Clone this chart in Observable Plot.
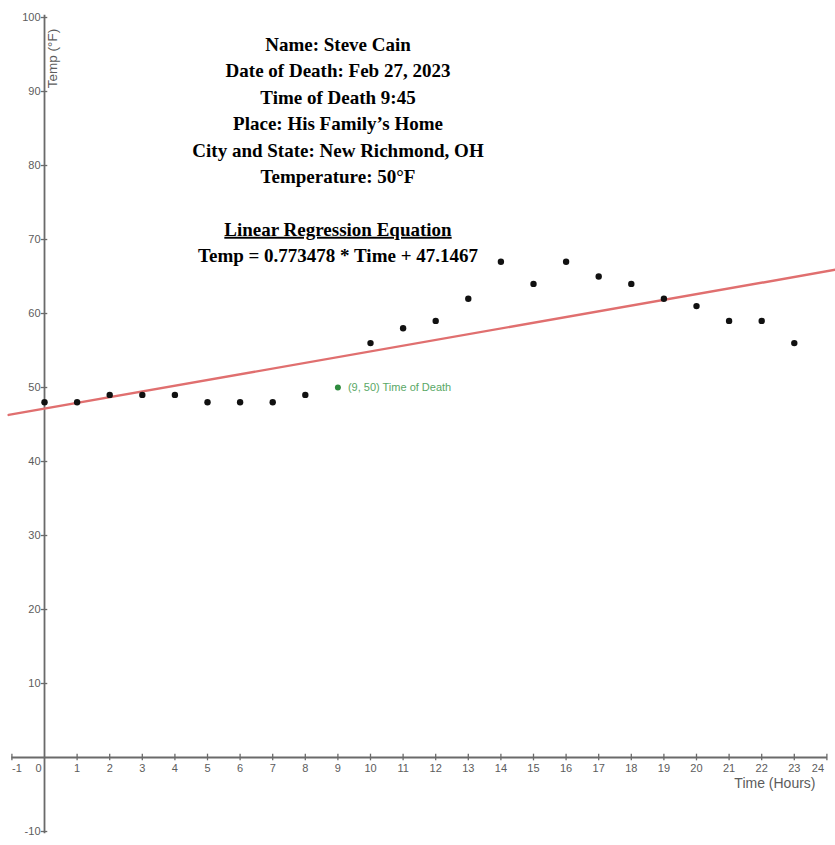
<!DOCTYPE html>
<html>
<head>
<meta charset="utf-8">
<script src="https://cdn.jsdelivr.net/npm/d3@7"></script>
<script src="https://cdn.jsdelivr.net/npm/@observablehq/plot@0.6"></script>
<style>
  html, body { margin: 0; padding: 0; background: #fff; }
  #chart { width: 835px; height: 845px; }
</style>
</head>
<body>
<div id="chart"></div>
<script>
// Hours after midnight and measured temperature (°F)
const hours = [0, 1, 2, 3, 4, 5, 6, 7, 8, 10, 11, 12, 13, 14, 15, 16, 17, 18, 19, 20, 21, 22, 23];
const temps = [48, 48, 49, 49, 49, 48, 48, 48, 49, 56, 58, 59, 62, 67, 64, 67, 65, 64, 62, 61, 59, 59, 56];

// Time of death point
const deathTime = [9];
const deathTemp = [50];
const deathLabel = ["(9, 50) Time of Death"];

// Regression coefficients
const slope = 0.773478;
const intercept = 47.1467;

// Tick labels
const xTicks = d3.range(-1, 25);
const yTicks = [-10, 10, 20, 30, 40, 50, 60, 70, 80, 90, 100];

// Info text
const infoLines = [
  "Name: Steve Cain",
  "Date of Death: Feb 27, 2023",
  "Time of Death 9:45",
  "Place: His Family\u2019s Home",
  "City and State: New Richmond, OH",
  "Temperature: 50\u00B0F",
  "",
  "Linear Regression Equation",
  "Temp = 0.773478 * Time + 47.1467"
];

const points = hours.map((h, i) => ({h, t: temps[i]}));
const death = deathTime.map((h, i) => ({h, t: deathTemp[i], label: deathLabel[i]}));
const lineX = [-1.1, 24.3];
const regLine = lineX.map(x => ({x, y: slope * x + intercept}));

const axisColor = "#6a6a6a";
const labelColor = "#5c5c5c";
const sans = "Liberation Sans, Arial, sans-serif";

const infoMarks = infoLines.map((s, i) => s === "" ? null :
  Plot.text([s], {frameAnchor: "top", dx: -80, dy: 37 + i * 26.4, lineAnchor: "top", fontSize: 19, fontWeight: "bold", fill: "#000", fontFamily: "Liberation Serif, Times New Roman, serif"})
).filter(Boolean);

const tickDx = d => d === 0 ? -6 : d === -1 ? 5 : d === 24 ? -9 : 0;

const chart = Plot.plot({
  width: 835,
  height: 845,
  marginLeft: 0,
  marginRight: 0,
  marginTop: 0,
  marginBottom: 0,
  x: {domain: [-1.35, 24.264], axis: null},
  y: {domain: [-11.89, 102.3], axis: null},
  marks: [
    // axes
    Plot.ruleY([0], {x1: -1, x2: 24.02, stroke: axisColor, strokeWidth: 1.8}),
    Plot.ruleX([0], {y1: -10.3, y2: 100.3, stroke: axisColor, strokeWidth: 1.8}),
    // ticks
    Plot.ruleX(xTicks.filter(d => d !== 0), {x: d => d, y1: -0.45, y2: 0.45, stroke: axisColor, strokeWidth: 1.3}),
    Plot.ruleY(yTicks, {y: d => d, x1: -0.1, x2: 0.1, stroke: axisColor, strokeWidth: 1.3}),
    // tick labels
    ...xTicks.map(d => Plot.text([d], {x: v => v, y: 0, text: v => String(v), dy: 11, dx: tickDx(d), fontSize: 11, fill: labelColor, fontFamily: sans})),
    Plot.text(yTicks, {x: 0, y: d => d, text: d => String(d), textAnchor: "end", dx: -4, fontSize: 11, fill: labelColor, fontFamily: sans}),
    // axis titles
    Plot.text(["Time (Hours)"], {frameAnchor: "bottom-right", dx: -20, dy: -58, textAnchor: "end", fontSize: 14, fill: labelColor, fontFamily: sans}),
    Plot.text(["Temp (\u00B0F)"], {frameAnchor: "top-left", dx: 52, dy: 58, rotate: -90, textAnchor: "middle", lineAnchor: "middle", fontSize: 13.5, fill: labelColor, fontFamily: sans}),
    // regression line
    Plot.line(regLine, {x: "x", y: "y", stroke: "#e06f6f", strokeWidth: 2.4}),
    // data points
    Plot.dot(points, {x: "h", y: "t", r: 3.2, fill: "#111", stroke: "none"}),
    // time of death
    Plot.dot(death, {x: "h", y: "t", r: 3, fill: "#2e8b3e", stroke: "none"}),
    Plot.text(death, {x: "h", y: "t", text: "label", dx: 10, textAnchor: "start", fontSize: 11, fill: "#5aa866", fontFamily: sans}),
    // info block
    ...infoMarks
  ]
});

document.getElementById("chart").appendChild(chart);
// underline the regression heading
d3.select(chart).selectAll("text").filter(function() { return this.textContent === infoLines[7]; })
  .attr("text-decoration", "underline");
</script>
</body>
</html>
